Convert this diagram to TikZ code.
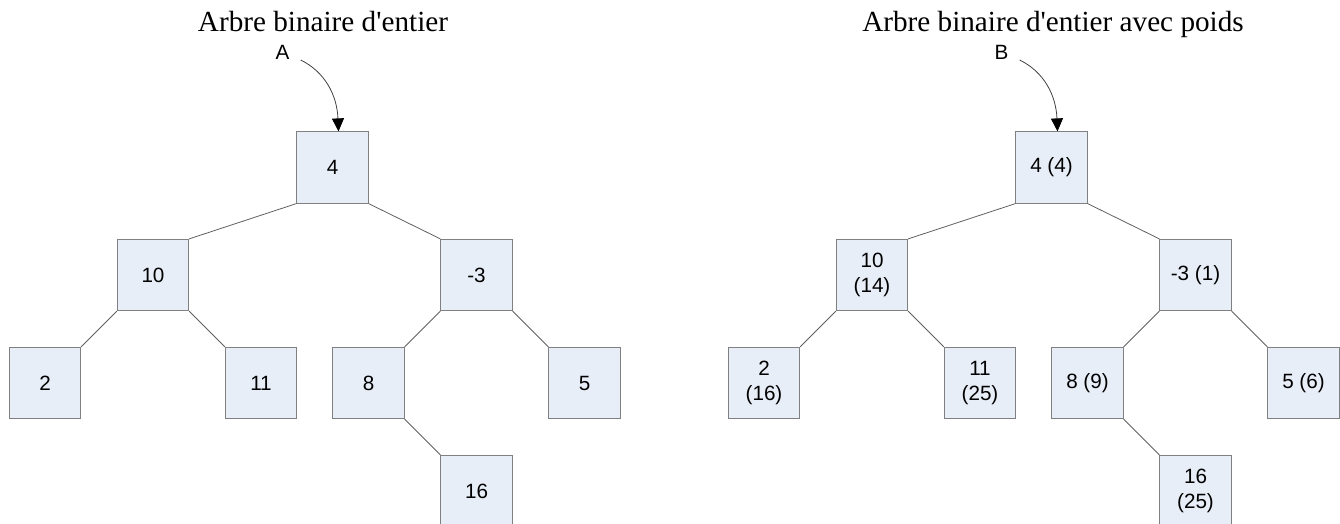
\documentclass[tikz,border=0pt]{standalone}
\usepackage{fontspec}
\setmainfont{Liberation Serif}
\setsansfont{Liberation Sans}
\usetikzlibrary{arrows.meta}
\definecolor{boxfill}{RGB}{232,238,248}
\definecolor{boxline}{RGB}{128,128,128}
\definecolor{edgecol}{RGB}{96,96,96}
\font\titlef="Liberation Serif" at 21.9pt
\begin{document}
\begin{tikzpicture}[x=0.75pt,y=-0.75pt,
  tnode/.style={draw=boxline, fill=boxfill, line width=0.75pt,
    minimum width=53.4pt, minimum height=53.4pt, inner sep=0pt,
    align=center, font=\sffamily\fontsize{15.5}{19}\selectfont},
  tedge/.style={draw=edgecol, line width=0.6pt},
  ptr/.style={draw=black!75, line width=0.6pt, -{Triangle[length=9.75pt,width=9pt,color=black,fill=black]}},
  title/.style={anchor=base, inner sep=0pt, font=\titlef},
  lab/.style={inner sep=0pt, font=\sffamily\fontsize{15.5}{18}\selectfont}]
\clip (0,0) rectangle (1340,524);
% left tree
\node[title] (t1) at (323,32) {Arbre binaire d'entier};
\node[lab] (la) at (282.5,52.5) {A};
\node[tnode] (a4) at (332.5,167.5) {4};
\node[tnode] (a10) at (153,275) {10};
\node[tnode] (am3) at (476.5,275) {-3};
\node[tnode] (a2) at (45,383) {2};
\node[tnode] (a11) at (261,383) {11};
\node[tnode] (a8) at (368.5,383) {8};
\node[tnode] (a5) at (584.5,383) {5};
\node[tnode] (a16) at (476.5,491) {16};
\draw[tedge] (a4.south west) -- (a10.north east);
\draw[tedge] (a4.south east) -- (am3.north west);
\draw[tedge] (a10.south west) -- (a2.north east);
\draw[tedge] (a10.south east) -- (a11.north west);
\draw[tedge] (am3.south west) -- (a8.north east);
\draw[tedge] (am3.south east) -- (a5.north west);
\draw[tedge] (a8.south east) -- (a16.north west);
\draw[ptr] ([shift={(11,7.5)}]la.east) .. controls (325,72) and (337,95) .. ([xshift=4.5]a4.north);
% right tree
\node[title] (t2) at (1053,32) {Arbre binaire d'entier avec poids};
\node[lab] (lb) at (1001.5,52.5) {B};
\node[tnode] (b4) at (1051.5,167.5) {4 (4)};
\node[tnode] (b10) at (872,275) {10\\(14)};
\node[tnode] (bm3) at (1195.5,275) {-3 (1)};
\node[tnode] (b2) at (764,383) {2\\(16)};
\node[tnode] (b11) at (980,383) {11\\(25)};
\node[tnode] (b8) at (1087.5,383) {8 (9)};
\node[tnode] (b5) at (1303.5,383) {5 (6)};
\node[tnode] (b16) at (1195.5,491) {16\\(25)};
\draw[tedge] (b4.south west) -- (b10.north east);
\draw[tedge] (b4.south east) -- (bm3.north west);
\draw[tedge] (b10.south west) -- (b2.north east);
\draw[tedge] (b10.south east) -- (b11.north west);
\draw[tedge] (bm3.south west) -- (b8.north east);
\draw[tedge] (bm3.south east) -- (b5.north west);
\draw[tedge] (b8.south east) -- (b16.north west);
\draw[ptr] ([shift={(11,7.5)}]lb.east) .. controls (1044,72) and (1056,95) .. ([xshift=4.5]b4.north);
\end{tikzpicture}
\end{document}
